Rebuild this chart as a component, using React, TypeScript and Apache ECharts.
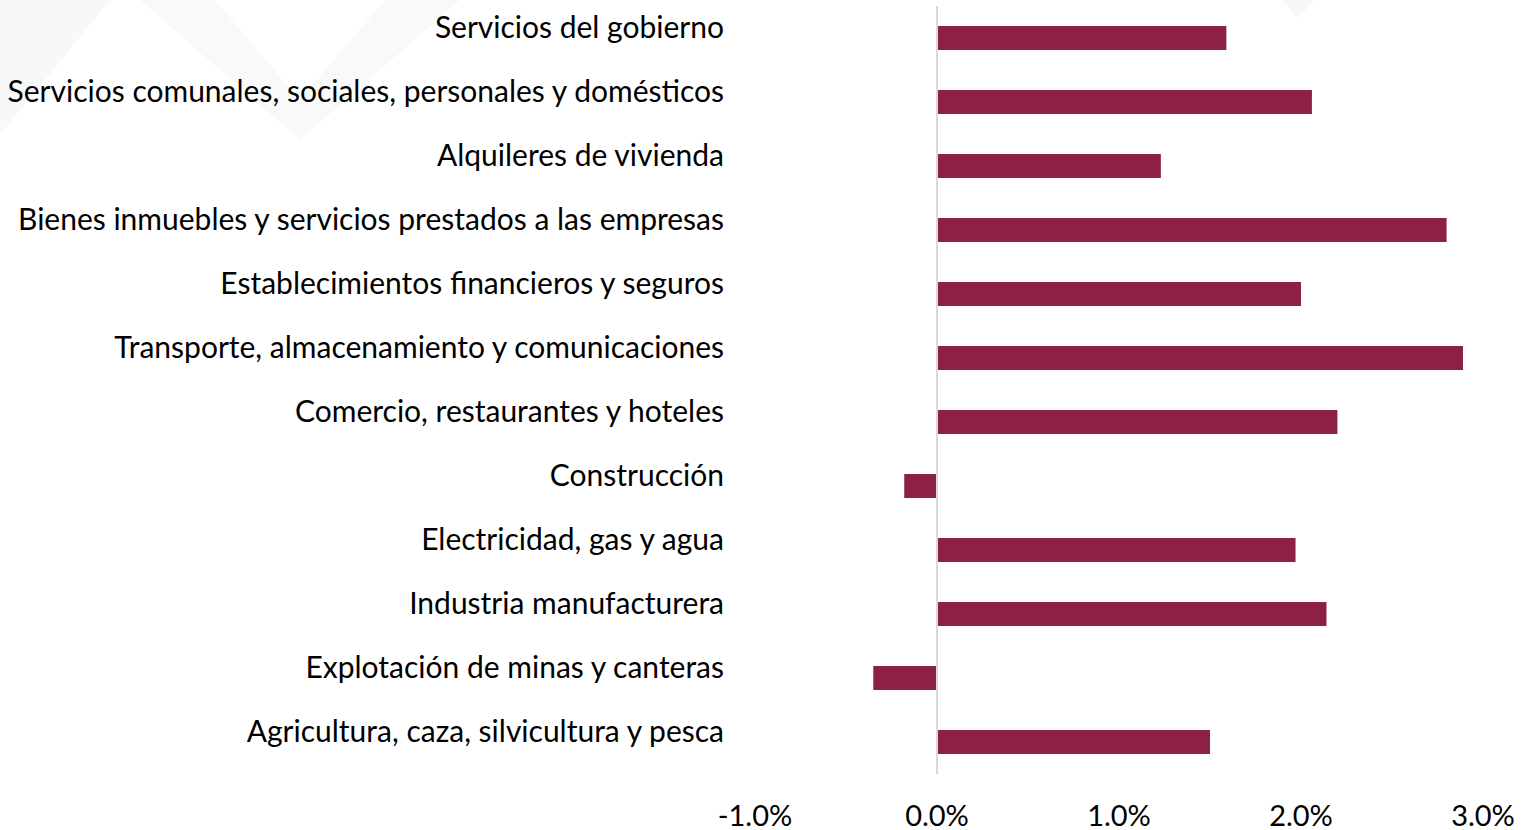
import React, { useEffect, useRef } from "react";
import * as echarts from "echarts";

const categories: string[] = [
  "Agricultura, caza, silvicultura y pesca",
  "Explotación de minas y canteras",
  "Industria manufacturera",
  "Electricidad, gas y agua",
  "Construcción",
  "Comercio, restaurantes y hoteles",
  "Transporte, almacenamiento y comunicaciones",
  "Establecimientos financieros y seguros",
  "Bienes inmuebles y servicios prestados a las empresas",
  "Alquileres de vivienda",
  "Servicios comunales, sociales, personales y domésticos",
  "Servicios del gobierno",
];

const values: number[] = [1.5, -0.35, 2.14, 1.97, -0.18, 2.2, 2.89, 2.0, 2.8, 1.23, 2.06, 1.59];

const xTicks: number[] = [-1, 0, 1, 2, 3];

export default function App() {
  const ref = useRef<HTMLDivElement>(null);

  useEffect(() => {
    if (!ref.current) return;
    const chart = echarts.init(ref.current, null, { renderer: "svg" });
    const font = "Lato, 'Open Sans', sans-serif";
    chart.setOption({
      animation: false,
      backgroundColor: "#ffffff",
      graphic: [
        {
          type: "polygon",
          silent: true,
          z: -10,
          shape: { points: [[0, 0], [110, 0], [0, 135]] },
          style: { fill: "#f8f8f8" },
        },
        {
          type: "polygon",
          silent: true,
          z: -10,
          shape: { points: [[140, 0], [215, 0], [300, 100], [385, 0], [460, 0], [300, 140]] },
          style: { fill: "#f9f9f9" },
        },
        {
          type: "polygon",
          silent: true,
          z: -10,
          shape: { points: [[1282, 0], [1314, 0], [1298, 18]] },
          style: { fill: "#f7f7f7" },
        },
      ],
      grid: { left: 755, right: 40, top: 6, bottom: 56, containLabel: false },
      xAxis: {
        type: "value",
        min: xTicks[0],
        max: xTicks[xTicks.length - 1],
        interval: 1,
        axisLine: { show: false },
        axisTick: { show: false },
        splitLine: { show: false },
        axisLabel: {
          formatter: (v: number) => v.toFixed(1) + "%",
          color: "#000000",
          fontSize: 29,
          fontFamily: font,
          lineHeight: 26,
          margin: 27,
        },
      },
      yAxis: {
        type: "category",
        data: categories,
        axisLine: { show: false, onZero: false },
        axisTick: { show: false },
        splitLine: { show: false },
        axisLabel: {
          color: "#000000",
          fontSize: 30,
          fontFamily: font,
          margin: 31,
          verticalAlign: "bottom",
          lineHeight: 25,
        },
      },
      series: [
        {
          type: "bar",
          data: values,
          barWidth: 24,
          itemStyle: { color: "#8C2143" },
          markLine: {
            silent: true,
            symbol: ["none", "none"],
            label: { show: false },
            lineStyle: { color: "#d9d9d9", width: 2, type: "solid" },
            data: [{ xAxis: 0 }],
          },
        },
      ],
    });
    return () => chart.dispose();
  }, []);

  return (
    <div
      ref={ref}
      style={{ position: "fixed", left: 0, top: 0, width: 1523, height: 830 }}
    />
  );
}
